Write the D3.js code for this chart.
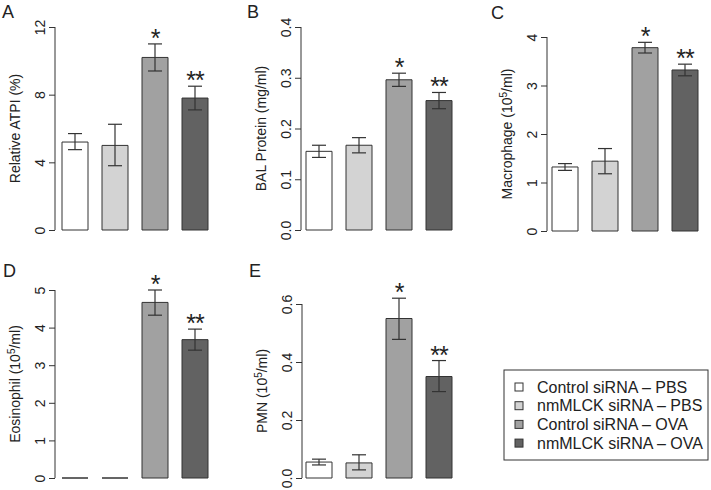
<!DOCTYPE html>
<html>
<head>
<meta charset="utf-8">
<script src="https://cdn.jsdelivr.net/npm/d3@7"></script>
<style>
  body { margin: 0; background: #fff; }
  svg text { font-family: "Liberation Sans", Arial, sans-serif; fill: #222; }
</style>
</head>
<body>
<svg id="fig" width="711" height="490"></svg>
<script>
// groups shown in every panel
var groups = ["Control siRNA \u2013 PBS", "nmMLCK siRNA \u2013 PBS", "Control siRNA \u2013 OVA", "nmMLCK siRNA \u2013 OVA"];
var groupColors = ["#ffffff", "#d3d3d3", "#a1a1a1", "#626262"];
var stars = ["", "", "*", "**"];

var panelLetters = ["A", "B", "C", "D", "E"];
var yTitles = ["Relative ATPI (%)", "BAL Protein (mg/ml)", "Macrophage (10|5|/ml)", "Eosinophil (10|5|/ml)", "PMN (10|5|/ml)"];
var yMax = [12, 0.4, 4, 5, 0.6];
var yTicks = [[0, 4, 8, 12], [0, 0.1, 0.2, 0.3, 0.4], [0, 1, 2, 3, 4], [0, 1, 2, 3, 4, 5], [0, 0.2, 0.4, 0.6]];
var tickFormats = ["d", ".1f", "d", "d", ".1f"];

// bar means and error bar ends
var means = [
  [5.2, 5.0, 10.2, 7.8],
  [0.155, 0.167, 0.296, 0.255],
  [1.32, 1.44, 3.78, 3.32],
  [0, 0, 4.67, 3.68],
  [0.055, 0.052, 0.55, 0.35]
];
var errLow = [
  [4.75, 3.8, 9.4, 7.1],
  [0.143, 0.152, 0.283, 0.239],
  [1.25, 1.18, 3.67, 3.20],
  [0, 0, 4.33, 3.40],
  [0.045, 0.028, 0.478, 0.298]
];
var errHigh = [
  [5.7, 6.25, 11.0, 8.5],
  [0.167, 0.182, 0.309, 0.271],
  [1.39, 1.70, 3.89, 3.44],
  [0, 0, 5.0, 3.96],
  [0.065, 0.08, 0.62, 0.405]
];

// panel placement: axis x, bar start x, y of zero, y of max, letter position
var layout = [
  { axisX: 55,  barX: 55,  y0: 230, y1: 27,  lx: 2,   ly: 18 },
  { axisX: 301, barX: 299, y0: 230, y1: 27,  lx: 247, ly: 18 },
  { axisX: 547, barX: 545, y0: 231, y1: 37,  lx: 491, ly: 19 },
  { axisX: 55,  barX: 55,  y0: 478, y1: 290, lx: 3,   ly: 277 },
  { axisX: 302, barX: 299, y0: 478, y1: 304, lx: 249, ly: 277 }
];

var svg = d3.select("#fig");
var ink = "#333";

panelLetters.forEach(function (letter, p) {
  var L = layout[p];
  var g = svg.append("g");

  var x = d3.scaleBand().domain(groups).range([L.barX, L.barX + 160]).paddingInner(0.35).paddingOuter(0.175);
  var y = d3.scaleLinear().domain([0, yMax[p]]).range([L.y0, L.y1]);

  // axis
  var axis = d3.axisLeft(y).tickValues(yTicks[p]).tickSize(6).tickPadding(4).tickFormat(d3.format(tickFormats[p]));
  var ax = g.append("g").attr("transform", "translate(" + L.axisX + ",0)").call(axis);
  ax.select(".domain").attr("d", "M0," + L.y0 + "V" + L.y1).attr("stroke", ink);
  ax.selectAll(".tick line").attr("stroke", ink);
  ax.selectAll(".tick text")
    .attr("x", null).attr("dy", null)
    .attr("transform", "translate(-10,0) rotate(-90)")
    .attr("text-anchor", "middle")
    .style("font-size", "14px").style("font-family", "'Liberation Sans', Arial, sans-serif").attr("fill", "#222");

  // y title (with optional superscript)
  var parts = yTitles[p].split("|");
  var t = g.append("text")
    .attr("transform", "translate(" + (L.axisX - 35) + "," + ((L.y0 + L.y1) / 2) + ") rotate(-90)")
    .attr("text-anchor", "middle").style("font-size", "14px");
  t.append("tspan").text(parts[0]);
  if (parts.length > 1) {
    t.append("tspan").attr("baseline-shift", "super").style("font-size", "10px").text(parts[1]);
    t.append("tspan").text(parts[2]);
  }

  // panel letter
  g.append("text").attr("x", L.lx).attr("y", L.ly).style("font-size", "18px").text(letter);

  // bars
  g.selectAll("path.bar").data(groups).enter().append("path")
    .attr("class", "bar")
    .attr("d", function (d, i) {
      var x0 = x(d), w = x.bandwidth();
      return "M" + x0 + "," + y(0) + "V" + y(means[p][i]) + "H" + (x0 + w) + "V" + y(0) + "Z";
    })
    .attr("fill", function (d, i) { return groupColors[i]; })
    .attr("stroke", ink).attr("stroke-width", 1);

  // error bars
  var eb = g.selectAll("g.err").data(groups).enter().append("g").attr("class", "err")
    .filter(function (d, i) { return errHigh[p][i] > errLow[p][i]; });
  eb.each(function (d) {
    var i = groups.indexOf(d);
    var cx = x(d) + x.bandwidth() / 2;
    var e = d3.select(this);
    e.append("line").attr("x1", cx).attr("x2", cx).attr("y1", y(errLow[p][i])).attr("y2", y(errHigh[p][i]));
    e.append("line").attr("x1", cx - 7).attr("x2", cx + 7).attr("y1", y(errLow[p][i])).attr("y2", y(errLow[p][i]));
    e.append("line").attr("x1", cx - 7).attr("x2", cx + 7).attr("y1", y(errHigh[p][i])).attr("y2", y(errHigh[p][i]));
  });
  eb.selectAll("line").attr("stroke", ink).attr("stroke-width", 1.2);

  // significance stars
  g.selectAll("text.star").data(groups).enter().append("text")
    .attr("class", "star")
    .attr("x", function (d) { return x(d) + x.bandwidth() / 2; })
    .attr("y", function (d, i) { return y(errHigh[p][i]) + 3; })
    .attr("text-anchor", "middle").style("font-size", "25px")
    .style("letter-spacing", "-1px")
    .text(function (d, i) { return stars[i]; });
});

// legend
var lg = svg.append("g").attr("transform", "translate(504,370)");
lg.append("rect").attr("width", 204).attr("height", 90).attr("fill", "#fff").attr("stroke", ink).attr("stroke-width", 1);
var row = lg.selectAll("g.row").data(groups).enter().append("g")
  .attr("transform", function (d, i) { return "translate(0," + (17 + i * 18.7) + ")"; });
row.append("rect").attr("x", 11).attr("y", -4).attr("width", 8).attr("height", 8)
  .attr("fill", function (d, i) { return groupColors[i]; }).attr("stroke", ink);
row.append("text").attr("x", 33).attr("y", 5.5).style("font-size", "16px").text(function (d) { return d; });
</script>
</body>
</html>
